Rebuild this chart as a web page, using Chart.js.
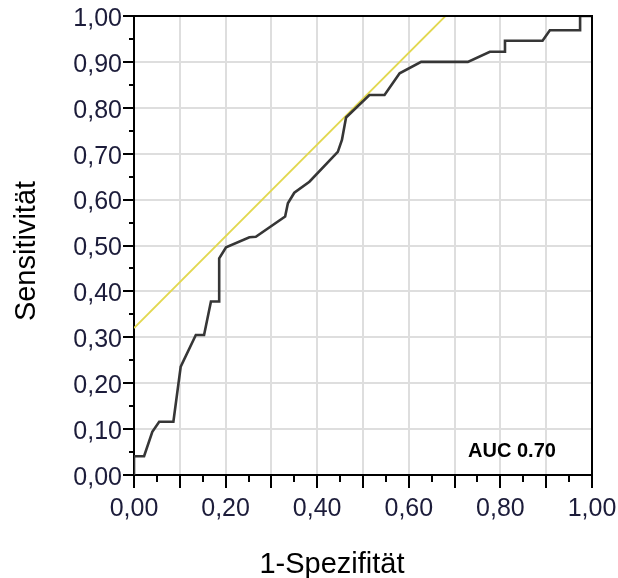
<!DOCTYPE html>
<html>
<head>
<title>ROC-Kurve</title>
<script src="https://cdn.jsdelivr.net/npm/chart.js"></script>
<style>
  body { margin: 0; background: #fff; }
  #chartBox { width: 618px; height: 578px; }
</style>
</head>
<body>
  <div id="chartBox">
    <canvas id="rocChart"></canvas>
  </div>

  <script>
    // ROC curve: 1-Spezifität (x) vs. Sensitivität (y)
    const rocX = [0.000, 0.000, 0.022, 0.040, 0.055, 0.086, 0.102, 0.135, 0.153, 0.168, 0.186, 0.186,
                  0.201, 0.252, 0.266, 0.330, 0.336, 0.350, 0.383, 0.445, 0.454, 0.463, 0.514, 0.547,
                  0.580, 0.627, 0.729, 0.777, 0.810, 0.810, 0.892, 0.908, 0.974, 0.974, 1.000];
    const rocY = [0.000, 0.041, 0.041, 0.094, 0.116, 0.116, 0.236, 0.305, 0.305, 0.378, 0.378, 0.472,
                  0.496, 0.518, 0.519, 0.563, 0.592, 0.615, 0.639, 0.704, 0.730, 0.779, 0.828, 0.828,
                  0.875, 0.900, 0.900, 0.922, 0.922, 0.946, 0.946, 0.969, 0.969, 1.000, 1.000];

    // reference line (slope 1)
    const refX = [0.00, 0.68];
    const refY = [0.32, 1.00];

    const aucText = 'AUC 0.70';
    const xTitle = '1-Spezifität';
    const yTitle = 'Sensitivität';

    const toPoints = (xs, ys) => xs.map((x, i) => ({ x: x, y: ys[i] }));
    const fmt = (v) => v.toFixed(2).replace('.', ',');

    const tickFont = { family: 'Liberation Sans, Arial, sans-serif', size: 25 };
    const labelColor = '#1c1c3a';

    // frame, minor ticks, axis titles and the AUC note
    const decorations = {
      id: 'decorations',
      afterDraw(chart) {
        const { ctx, chartArea: a, scales } = chart;
        ctx.save();
        ctx.strokeStyle = '#000';
        ctx.lineWidth = 2;
        ctx.beginPath();
        ctx.moveTo(a.left, a.top);
        ctx.lineTo(a.right, a.top);
        ctx.lineTo(a.right, a.bottom);
        ctx.stroke();

        ctx.beginPath();
        for (let v = 0.05; v < 1; v += 0.1) {
          const px = Math.round(scales.x.getPixelForValue(v));
          ctx.moveTo(px, a.bottom);
          ctx.lineTo(px, a.bottom + 7);
          const py = Math.round(scales.y.getPixelForValue(v));
          ctx.moveTo(a.left, py);
          ctx.lineTo(a.left - 5, py);
        }
        ctx.stroke();

        ctx.fillStyle = '#000';
        ctx.font = '29px "Liberation Sans", Arial, sans-serif';
        ctx.textAlign = 'center';
        ctx.textBaseline = 'alphabetic';
        ctx.fillText(xTitle, 332, 573);

        ctx.save();
        ctx.translate(35, 251);
        ctx.rotate(-Math.PI / 2);
        ctx.fillText(yTitle, 0, 0);
        ctx.restore();

        ctx.font = 'bold 20px "Liberation Sans", Arial, sans-serif';
        ctx.fillText(aucText, 512, 457);
        ctx.restore();
      }
    };

    const ctx = document.getElementById('rocChart').getContext('2d');
    new Chart(ctx, {
      type: 'scatter',
      data: {
        datasets: [
          {
            label: 'ROC',
            data: toPoints(rocX, rocY),
            showLine: true,
            borderColor: '#363636',
            borderWidth: 2.6,
            pointRadius: 0,
            tension: 0
          },
          {
            label: 'Referenz',
            data: toPoints(refX, refY),
            showLine: true,
            borderColor: '#e2d850',
            borderWidth: 1.8,
            pointRadius: 0
          }
        ]
      },
      options: {
        responsive: true,
        maintainAspectRatio: false,
        animation: false,
        layout: { padding: { top: 16, right: 26, left: 0, bottom: 0 } },
        plugins: {
          legend: { display: false },
          tooltip: { enabled: false }
        },
        scales: {
          x: {
            type: 'linear',
            min: 0,
            max: 1,
            afterFit: (scale) => {
              scale.height = 103;
              scale.paddingLeft = 0;
              scale.paddingRight = 0;
            },
            border: { color: '#000', width: 2 },
            grid: {
              color: '#dedede',
              lineWidth: 2,
              tickColor: '#000',
              tickLength: 13,
              tickWidth: 2
            },
            ticks: {
              stepSize: 0.1,
              autoSkip: false,
              maxRotation: 0,
              padding: 6,
              color: labelColor,
              font: tickFont,
              callback: (value, index) => (index % 2 === 0 ? fmt(value) : '')
            }
          },
          y: {
            type: 'linear',
            min: 0,
            max: 1,
            afterFit: (scale) => {
              scale.width = 134;
              scale.paddingTop = 0;
              scale.paddingBottom = 0;
            },
            border: { color: '#000', width: 2 },
            grid: {
              color: '#dedede',
              lineWidth: 2,
              tickColor: '#000',
              tickLength: 11,
              tickWidth: 2
            },
            ticks: {
              stepSize: 0.1,
              padding: 1,
              labelOffset: 3,
              color: labelColor,
              font: tickFont,
              callback: (value) => fmt(value)
            }
          }
        }
      },
      plugins: [decorations]
    });
  </script>
</body>
</html>
